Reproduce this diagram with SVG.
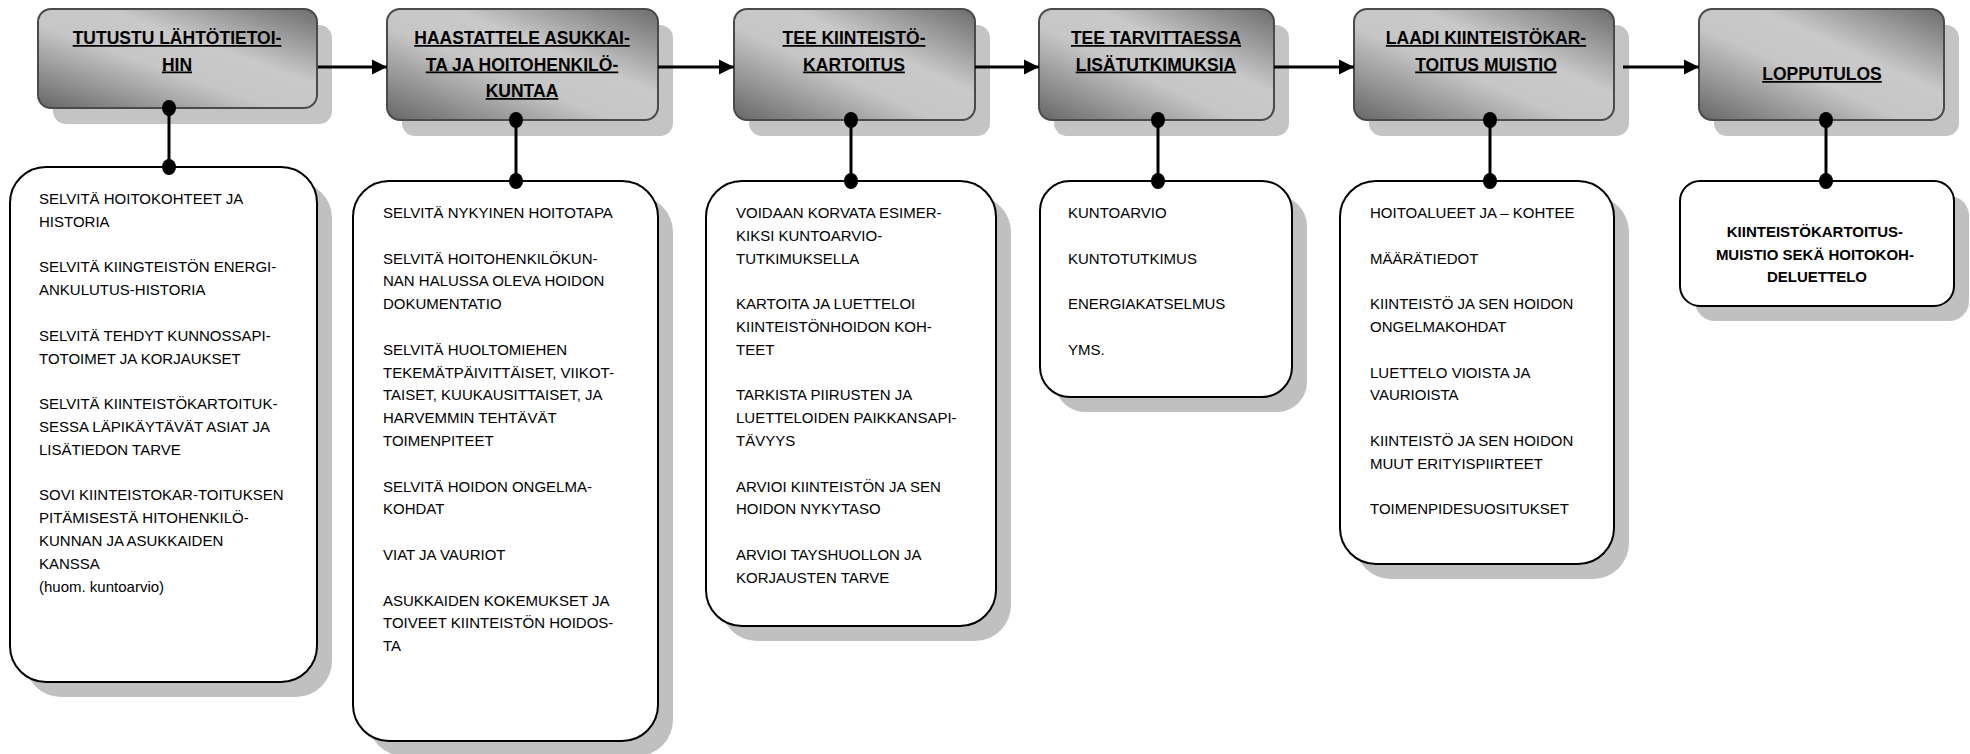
<svg xmlns="http://www.w3.org/2000/svg" width="1970" height="754" viewBox="0 0 1970 754">
<defs>
<linearGradient id="hg" x1="0" y1="1" x2="1" y2="0">
<stop offset="0" stop-color="#666666"/>
<stop offset="0.42" stop-color="#c6c6c6"/>
<stop offset="0.62" stop-color="#c9c9c9"/>
<stop offset="1" stop-color="#6c6c6c"/>
</linearGradient>
<marker id="arr" markerUnits="userSpaceOnUse" markerWidth="16" markerHeight="16" refX="15" refY="8" orient="auto">
<path d="M0,0.5 L15,8 L0,15.5 Z" fill="#000"/>
</marker>
</defs>
<style>
.hs{fill:#c4c4c4;}
.hb{fill:url(#hg);stroke:#4a4a4a;stroke-width:2;}
.ht{font-family:"Liberation Sans",Arial,sans-serif;font-weight:bold;font-size:17.5px;fill:#000;text-anchor:middle;text-decoration:underline;}
.ds{fill:#c0c0c0;}
.db{fill:#fff;stroke:#000;stroke-width:2;}
.dt{font-family:"Liberation Sans",Arial,sans-serif;font-size:15px;fill:#000;}
.dbt{font-family:"Liberation Sans",Arial,sans-serif;font-size:15px;font-weight:bold;fill:#000;text-anchor:middle;}
.ln{stroke:#000;stroke-width:3;fill:none;}
.dot{fill:#000;}
</style>
<rect width="1970" height="754" fill="#fff"/>

<!-- header nodes -->
<g id="h1">
<rect class="hs" x="53" y="25" width="279" height="99" rx="13"/>
<rect class="hb" x="38" y="9" width="279" height="99" rx="13"/>
<text class="ht" x="177" y="44">TUTUSTU LÄHTÖTIETOI-</text>
<text class="ht" x="177" y="70.5">HIN</text>
</g>
<g id="h2">
<rect class="hs" x="402" y="25" width="271" height="111" rx="13"/>
<rect class="hb" x="387" y="9" width="271" height="111" rx="13"/>
<text class="ht" x="522" y="44">HAASTATTELE ASUKKAI-</text>
<text class="ht" x="522" y="70.5">TA JA HOITOHENKILÖ-</text>
<text class="ht" x="522" y="97">KUNTAA</text>
</g>
<g id="h3">
<rect class="hs" x="749" y="25" width="241" height="111" rx="13"/>
<rect class="hb" x="734" y="9" width="241" height="111" rx="13"/>
<text class="ht" x="854" y="44">TEE KIINTEISTÖ-</text>
<text class="ht" x="854" y="70.5">KARTOITUS</text>
</g>
<g id="h4">
<rect class="hs" x="1054" y="25" width="235" height="111" rx="13"/>
<rect class="hb" x="1039" y="9" width="235" height="111" rx="13"/>
<text class="ht" x="1156" y="44">TEE TARVITTAESSA</text>
<text class="ht" x="1156" y="70.5">LISÄTUTKIMUKSIA</text>
</g>
<g id="h5">
<rect class="hs" x="1369" y="25" width="260" height="111" rx="13"/>
<rect class="hb" x="1354" y="9" width="260" height="111" rx="13"/>
<text class="ht" x="1486" y="44">LAADI KIINTEISTÖKAR-</text>
<text class="ht" x="1486" y="70.5">TOITUS MUISTIO</text>
</g>
<g id="h6">
<rect class="hs" x="1714" y="25" width="245" height="111" rx="13"/>
<rect class="hb" x="1699" y="9" width="245" height="111" rx="13"/>
<text class="ht" x="1822" y="80">LOPPUTULOS</text>
</g>

<!-- detail nodes -->
<g id="d1">
<rect class="ds" x="25" y="182" width="307" height="515" rx="36"/>
<rect class="db" x="10" y="167" width="307" height="515" rx="36"/>
<text class="dt">
<tspan x="39" y="204">SELVITÄ HOITOKOHTEET JA</tspan>
<tspan x="39" y="226.8">HISTORIA</tspan>
<tspan x="39" y="272.4">SELVITÄ KIINGTEISTÖN ENERGI-</tspan>
<tspan x="39" y="295.2">ANKULUTUS-HISTORIA</tspan>
<tspan x="39" y="340.8">SELVITÄ TEHDYT KUNNOSSAPI-</tspan>
<tspan x="39" y="363.6">TOTOIMET JA KORJAUKSET</tspan>
<tspan x="39" y="409.2">SELVITÄ KIINTEISTÖKARTOITUK-</tspan>
<tspan x="39" y="432">SESSA LÄPIKÄYTÄVÄT ASIAT JA</tspan>
<tspan x="39" y="454.8">LISÄTIEDON TARVE</tspan>
<tspan x="39" y="500.4">SOVI KIINTEISTOKAR-TOITUKSEN</tspan>
<tspan x="39" y="523.2">PITÄMISESTÄ HITOHENKILÖ-</tspan>
<tspan x="39" y="546">KUNNAN JA ASUKKAIDEN</tspan>
<tspan x="39" y="568.8">KANSSA</tspan>
<tspan x="39" y="591.6">(huom. kuntoarvio)</tspan>
</text>
</g>
<g id="d2">
<rect class="ds" x="368" y="196" width="305" height="560" rx="36"/>
<rect class="db" x="353" y="181" width="305" height="560" rx="36"/>
<text class="dt">
<tspan x="383" y="218">SELVITÄ NYKYINEN HOITOTAPA</tspan>
<tspan x="383" y="263.6">SELVITÄ HOITOHENKILÖKUN-</tspan>
<tspan x="383" y="286.4">NAN HALUSSA OLEVA HOIDON</tspan>
<tspan x="383" y="309.2">DOKUMENTATIO</tspan>
<tspan x="383" y="354.8">SELVITÄ HUOLTOMIEHEN</tspan>
<tspan x="383" y="377.6">TEKEMÄTPÄIVITTÄISET, VIIKOT-</tspan>
<tspan x="383" y="400.4">TAISET, KUUKAUSITTAISET, JA</tspan>
<tspan x="383" y="423.2">HARVEMMIN TEHTÄVÄT</tspan>
<tspan x="383" y="446">TOIMENPITEET</tspan>
<tspan x="383" y="491.6">SELVITÄ HOIDON ONGELMA-</tspan>
<tspan x="383" y="514.4">KOHDAT</tspan>
<tspan x="383" y="560">VIAT JA VAURIOT</tspan>
<tspan x="383" y="605.6">ASUKKAIDEN KOKEMUKSET JA</tspan>
<tspan x="383" y="628.4">TOIVEET KIINTEISTÖN HOIDOS-</tspan>
<tspan x="383" y="651.2">TA</tspan>
</text>
</g>
<g id="d3">
<rect class="ds" x="721" y="196" width="290" height="445" rx="36"/>
<rect class="db" x="706" y="181" width="290" height="445" rx="36"/>
<text class="dt">
<tspan x="736" y="218">VOIDAAN KORVATA ESIMER-</tspan>
<tspan x="736" y="240.8">KIKSI KUNTOARVIO-</tspan>
<tspan x="736" y="263.6">TUTKIMUKSELLA</tspan>
<tspan x="736" y="309.2">KARTOITA JA LUETTELOI</tspan>
<tspan x="736" y="332">KIINTEISTÖNHOIDON KOH-</tspan>
<tspan x="736" y="354.8">TEET</tspan>
<tspan x="736" y="400.4">TARKISTA PIIRUSTEN JA</tspan>
<tspan x="736" y="423.2">LUETTELOIDEN PAIKKANSAPI-</tspan>
<tspan x="736" y="446">TÄVYYS</tspan>
<tspan x="736" y="491.6">ARVIOI KIINTEISTÖN JA SEN</tspan>
<tspan x="736" y="514.4">HOIDON NYKYTASO</tspan>
<tspan x="736" y="560">ARVIOI TAYSHUOLLON JA</tspan>
<tspan x="736" y="582.8">KORJAUSTEN TARVE</tspan>
</text>
</g>
<g id="d4">
<rect class="ds" x="1055" y="196" width="252" height="216" rx="30"/>
<rect class="db" x="1040" y="181" width="252" height="216" rx="30"/>
<text class="dt">
<tspan x="1068" y="218">KUNTOARVIO</tspan>
<tspan x="1068" y="263.6">KUNTOTUTKIMUS</tspan>
<tspan x="1068" y="309.2">ENERGIAKATSELMUS</tspan>
<tspan x="1068" y="354.8">YMS.</tspan>
</text>
</g>
<g id="d5">
<rect class="ds" x="1355" y="196" width="274" height="383" rx="36"/>
<rect class="db" x="1340" y="181" width="274" height="383" rx="36"/>
<text class="dt">
<tspan x="1370" y="218">HOITOALUEET JA – KOHTEE</tspan>
<tspan x="1370" y="263.6">MÄÄRÄTIEDOT</tspan>
<tspan x="1370" y="309.2">KIINTEISTÖ JA SEN HOIDON</tspan>
<tspan x="1370" y="332">ONGELMAKOHDAT</tspan>
<tspan x="1370" y="377.6">LUETTELO VIOISTA JA</tspan>
<tspan x="1370" y="400.4">VAURIOISTA</tspan>
<tspan x="1370" y="446">KIINTEISTÖ JA SEN HOIDON</tspan>
<tspan x="1370" y="468.8">MUUT ERITYISPIIRTEET</tspan>
<tspan x="1370" y="514.4">TOIMENPIDESUOSITUKSET</tspan>
</text>
</g>
<g id="d6">
<rect class="ds" x="1695" y="196" width="274" height="125" rx="20"/>
<rect class="db" x="1680" y="181" width="274" height="125" rx="20"/>
<text class="dbt">
<tspan x="1817" y="237">KIINTEISTÖKARTOITUS-</tspan>
<tspan x="1817" y="260">MUISTIO SEKÄ HOITOKOH-</tspan>
<tspan x="1817" y="282">DELUETTELO</tspan>
</text>
</g>

<!-- connectors -->
<g id="connectors">
<line class="ln" x1="318" y1="67" x2="387" y2="67" marker-end="url(#arr)"/>
<line class="ln" x1="658" y1="67" x2="734" y2="67" marker-end="url(#arr)"/>
<line class="ln" x1="975" y1="67" x2="1039" y2="67" marker-end="url(#arr)"/>
<line class="ln" x1="1274" y1="67" x2="1354" y2="67" marker-end="url(#arr)"/>
<line class="ln" x1="1623" y1="67" x2="1699" y2="67" marker-end="url(#arr)"/>

<line class="ln" x1="169" y1="108" x2="169" y2="167"/>
<ellipse class="dot" cx="169" cy="108" rx="7" ry="8"/>
<ellipse class="dot" cx="169" cy="167" rx="7" ry="8"/>

<line class="ln" x1="516" y1="120" x2="516" y2="181"/>
<ellipse class="dot" cx="516" cy="120" rx="7" ry="8"/>
<ellipse class="dot" cx="516" cy="181" rx="7" ry="8"/>

<line class="ln" x1="851" y1="120" x2="851" y2="181"/>
<ellipse class="dot" cx="851" cy="120" rx="7" ry="8"/>
<ellipse class="dot" cx="851" cy="181" rx="7" ry="8"/>

<line class="ln" x1="1158" y1="120" x2="1158" y2="181"/>
<ellipse class="dot" cx="1158" cy="120" rx="7" ry="8"/>
<ellipse class="dot" cx="1158" cy="181" rx="7" ry="8"/>

<line class="ln" x1="1490" y1="120" x2="1490" y2="181"/>
<ellipse class="dot" cx="1490" cy="120" rx="7" ry="8"/>
<ellipse class="dot" cx="1490" cy="181" rx="7" ry="8"/>

<line class="ln" x1="1826" y1="120" x2="1826" y2="181"/>
<ellipse class="dot" cx="1826" cy="120" rx="7" ry="8"/>
<ellipse class="dot" cx="1826" cy="181" rx="7" ry="8"/>
</g>
</svg>
